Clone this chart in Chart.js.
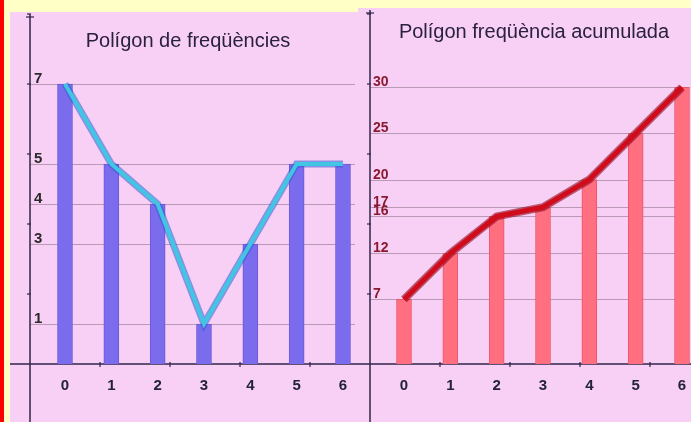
<!DOCTYPE html>
<html>
<head>
<meta charset="utf-8">
<script src="https://cdn.jsdelivr.net/npm/chart.js@4.4.0/dist/chart.umd.min.js"></script>
<style>
body{margin:0;width:691px;height:422px;overflow:hidden;background:#ffffc6;position:relative}
#edge{position:absolute;left:0;top:0;width:4px;height:422px;background:#ff0000}
.panel{position:absolute;background:#f9d0f5}
canvas{display:block}
</style>
</head>
<body>
<div id="edge"></div>
<div class="panel" style="left:10px;top:12px;width:348px;height:410px"><canvas id="freq" width="348" height="410"></canvas></div>
<div class="panel" style="left:358px;top:8px;width:333px;height:414px"><canvas id="acum" width="333" height="414"></canvas></div>
<script>
// values
const categories = [0, 1, 2, 3, 4, 5, 6];
const freqValues = [7, 5, 4, 1, 3, 5, 5];
const cumValues = [7, 12, 16, 17, 20, 25, 30];
const freqTicks = [1, 3, 4, 5, 7];
const cumTicks = [7, 12, 16, 17, 20, 25, 30];

const toPoints = vals => categories.map((c, i) => ({x: c, y: vals[i]}));

// draws the hand-made axes, grid lines and labels of the original
const axesPlugin = {
    id: 'axes',
    beforeDatasetsDraw(chart, args, o) {
        const c = chart.ctx, x = chart.scales.x, y = chart.scales.y;
        const ox = x.getPixelForValue(o.yAxisAt), oy = y.getPixelForValue(0);
        c.save();
        // grid lines at each labelled value
        c.strokeStyle = 'rgba(120,100,120,0.5)';
        c.lineWidth = 1;
        o.ticks.forEach(v => {
            const py = Math.round(y.getPixelForValue(v)) + 0.5;
            c.beginPath(); c.moveTo(ox, py); c.lineTo(chart.width - 3, py); c.stroke();
        });
        // axes
        c.strokeStyle = '#2e2448';
        c.lineWidth = 1.5;
        c.beginPath(); c.moveTo(ox, 2); c.lineTo(ox, chart.height); c.stroke();
        c.beginPath(); c.moveTo(0, oy); c.lineTo(chart.width, oy); c.stroke();
        // little tick marks every 70px
        c.lineWidth = 1.2;
        for (let k = 1; oy - 70 * k > 0; k++) {
            c.beginPath(); c.moveTo(ox - 3, oy - 70 * k); c.lineTo(ox + 1, oy - 70 * k); c.stroke();
        }
        for (let k = 1; ox + 70 * k < chart.width; k++) {
            c.beginPath(); c.moveTo(ox + 70 * k, oy - 2); c.lineTo(ox + 70 * k, oy + 3); c.stroke();
        }
        c.beginPath(); c.moveTo(ox - 4, 5); c.lineTo(ox + 4, 5); c.stroke();
        c.restore();
    },
    afterDatasetsDraw(chart, args, o) {
        const c = chart.ctx, x = chart.scales.x, y = chart.scales.y;
        const ox = x.getPixelForValue(o.yAxisAt), oy = y.getPixelForValue(0);
        c.save();
        c.textBaseline = 'alphabetic';
        c.textAlign = 'left';
        c.font = o.yFont;
        c.fillStyle = o.yColor;
        o.ticks.forEach(v => {
            c.fillText(String(v), ox + o.yLabelDx, Math.round(y.getPixelForValue(v)) - 1);
        });
        c.textAlign = 'center';
        c.textBaseline = 'middle';
        c.font = 'bold 15px "Liberation Sans", Arial, sans-serif';
        c.fillStyle = '#22223c';
        categories.forEach(v => c.fillText(String(v), x.getPixelForValue(v), oy + 22));
        c.font = '20px "Liberation Sans", Arial, sans-serif';
        c.fillStyle = '#2a2040';
        c.fillText(o.title, o.titleX, o.titleY);
        c.restore();
    }
};

function makeChart(id, vals, opts) {
    return new Chart(document.getElementById(id), {
        type: 'bar',
        data: {
            datasets: [
                {
                    type: 'line', data: toPoints(vals), borderColor: opts.haloColor,
                    borderWidth: opts.lineWidth + 3, pointRadius: 0, tension: 0, order: 2
                },
                {
                    type: 'line', data: toPoints(vals), borderColor: opts.lineColor,
                    borderWidth: opts.lineWidth, pointRadius: 0, tension: 0, order: 1
                },
                {
                    data: toPoints(vals), backgroundColor: opts.barColor,
                    borderColor: opts.barBorder, borderWidth: 1,
                    barThickness: 15, order: 3
                }
            ]
        },
        options: {
            responsive: false,
            devicePixelRatio: 1,
            animation: false,
            layout: {padding: 0},
            plugins: {legend: {display: false}, tooltip: {enabled: false}, axes: opts.axes},
            scales: {
                x: {type: 'linear', display: false, offset: false, min: opts.xMin, max: opts.xMax},
                y: {type: 'linear', display: false, min: opts.yMin, max: opts.yMax}
            }
        },
        plugins: [axesPlugin]
    });
}

makeChart('freq', freqValues, {
    xMin: -1.187, xMax: 6.324, yMin: -1.45, yMax: 8.8,
    barColor: '#7b6cee', barBorder: '#6a5ad8',
    lineColor: '#40c6e2', haloColor: 'rgba(50,90,210,0.55)', lineWidth: 4,
    axes: {
        yAxisAt: -0.755, ticks: freqTicks,
        yFont: 'bold 15px "Liberation Sans", Arial, sans-serif', yColor: '#2a2a2a', yLabelDx: 4,
        title: 'Polígon de freqüències', titleX: 178, titleY: 29
    }
});

makeChart('acum', cumValues, {
    xMin: -0.993, xMax: 6.194, yMin: -6.29, yMax: 38.6,
    barColor: '#ff6f80', barBorder: '#e8586a',
    lineColor: '#d00c1c', haloColor: 'rgba(140,10,30,0.6)', lineWidth: 5,
    axes: {
        yAxisAt: -0.734, ticks: cumTicks,
        yFont: 'bold 14px "Liberation Sans Narrow", "Liberation Sans", Arial, sans-serif', yColor: '#8a1a30', yLabelDx: 3,
        title: 'Polígon freqüència acumulada', titleX: 176, titleY: 24
    }
});
</script>
</body>
</html>
